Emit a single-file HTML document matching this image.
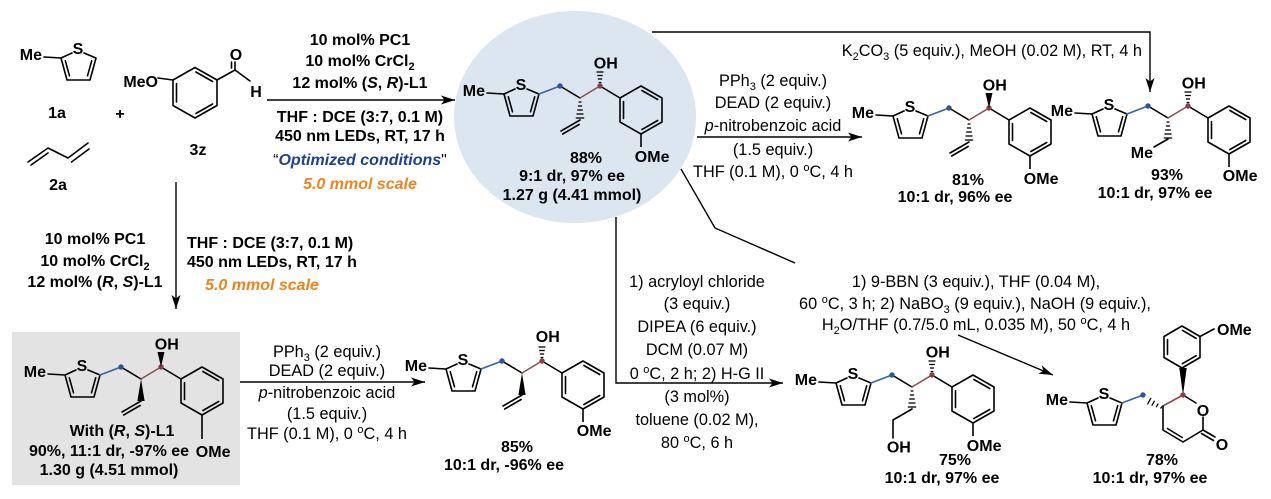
<!DOCTYPE html>
<html><head><meta charset="utf-8">
<style>
html,body{margin:0;padding:0;background:#fff;}
svg{display:block;}
text{font-family:"Liberation Sans",Arial,sans-serif;fill:#000;}
.b{font-weight:bold;font-size:16px;}
.r{font-size:16.3px;}
</style></head><body>
<svg width="1271" height="499" viewBox="0 0 1271 499" xmlns="http://www.w3.org/2000/svg">
<defs>
<marker id="ah" markerUnits="userSpaceOnUse" markerWidth="16" markerHeight="10" refX="14" refY="5" orient="auto"><path d="M0,0.5 L14,5 L0,9.5 L3.5,5 Z" fill="#000"/></marker>
<g id="thio" stroke="#000" stroke-width="1.6" fill="none" stroke-linecap="round" stroke-linejoin="round">
 <line x1="-93" y1="-5" x2="-76" y2="-4"/>
 <polyline points="-65,-9 -76,-4 -70,18 -47,18 -41,-4 -53,-9"/>
 <line x1="-71.7" y1="-1.2" x2="-67.5" y2="13.8"/>
 <line x1="-45.3" y1="-1.2" x2="-49.5" y2="13.8"/>
</g>
<g id="core">
 <use href="#thio"/>
 <g stroke-width="1.6" stroke-linecap="round" fill="none">
  <line x1="-41" y1="-4" x2="-20" y2="-12" stroke="#3565a5"/>
  <line x1="-20" y1="-12" x2="0" y2="0" stroke="#000"/>
  <line x1="0" y1="0" x2="20" y2="-12" stroke="#8c5050"/>
  <line x1="20" y1="-12" x2="40" y2="0" stroke="#000"/>
  <polygon points="40,0 61,-12 82,0 82,24 61,36 40,24" stroke="#000" stroke-linejoin="round"/>
  <line x1="61.9" y1="-7.5" x2="77.7" y2="1.5" stroke="#000"/>
  <line x1="43.5" y1="3.5" x2="43.5" y2="20.5" stroke="#000"/>
  <line x1="61.9" y1="31.5" x2="77.7" y2="22.5" stroke="#000"/>
 </g>
 <circle cx="-20" cy="-12" r="2.7" fill="#2a5699"/>
 <circle cx="20" cy="-12" r="2.7" fill="#8e3e48"/>
</g>
<g id="hd" stroke="#000" stroke-width="1.3">
 <line x1="-1.4" y1="4" x2="1.4" y2="4"/>
 <line x1="-2.1" y1="8" x2="2.1" y2="8"/>
 <line x1="-2.8" y1="12" x2="2.8" y2="12"/>
 <line x1="-3.5" y1="16" x2="3.5" y2="16"/>
 <line x1="-4.2" y1="20" x2="4.2" y2="20"/>
</g>
<polygon id="bd" points="0,0 -3.6,22 3.6,22" fill="#000"/>
<g id="hu" stroke="#000" stroke-width="1.3">
 <line x1="18.6" y1="-15.5" x2="21.4" y2="-15.5"/>
 <line x1="17.9" y1="-19" x2="22.1" y2="-19"/>
 <line x1="17.2" y1="-22.5" x2="22.8" y2="-22.5"/>
 <line x1="16.5" y1="-26" x2="23.5" y2="-26"/>
</g>
<polygon id="bu" points="20,-12 16.5,-27 23.5,-27" fill="#000"/>
<g id="vin" stroke="#000" stroke-width="1.6" stroke-linecap="round">
 <line x1="0" y1="22" x2="-19" y2="33"/>
 <line x1="-0.9" y1="26.5" x2="-17.3" y2="36"/>
</g>
</defs>

<rect width="1271" height="499" fill="#fff"/>
<ellipse cx="575" cy="117" rx="121" ry="106" fill="#dce6f1"/>
<rect x="12" y="332" width="228" height="153" fill="#e3e3e3"/>

<!-- arrows -->
<g stroke="#000" stroke-width="1.4" fill="none">
 <line x1="267" y1="100" x2="455" y2="100" marker-end="url(#ah)"/>
 <line x1="176" y1="182" x2="176" y2="309" marker-end="url(#ah)"/>
 <line x1="697" y1="137" x2="862" y2="137" marker-end="url(#ah)"/>
 <polyline points="652,32 1150,32 1150,92" marker-end="url(#ah)"/>
 <line x1="240" y1="382" x2="425" y2="382" marker-end="url(#ah)"/>
 <polyline points="616,217 616,383 783,383" marker-end="url(#ah)"/>
 <polyline points="681,169 715,228 795,263"/>
 <line x1="958" y1="335" x2="1053" y2="375" marker-end="url(#ah)"/>
</g>

<!-- 1a -->
<use href="#thio" transform="translate(137,62)"/>
<text class="b" x="42" y="60" text-anchor="end">Me</text>
<text class="b" x="78" y="54" text-anchor="middle">S</text>
<text class="b" x="57" y="118" text-anchor="middle">1a</text>
<text class="b" x="120" y="119" text-anchor="middle">+</text>

<!-- 2a -->
<g stroke="#000" stroke-width="1.6" fill="none" stroke-linecap="round" stroke-linejoin="round">
 <polyline points="28,162 48,148 68,158 88,143"/>
 <line x1="31" y1="165" x2="48" y2="153"/>
 <line x1="71.5" y1="162" x2="89" y2="149"/>
</g>
<text class="b" x="58" y="190" text-anchor="middle">2a</text>

<!-- 3z -->
<g stroke="#000" stroke-width="1.6" fill="none" stroke-linecap="round" stroke-linejoin="round">
 <polygon points="195,67.5 217,80 217,105.5 195,118 173,105.5 173,80"/>
 <line x1="195.9" y1="72" x2="212.6" y2="81.5"/>
 <line x1="176.5" y1="83.5" x2="176.5" y2="102"/>
 <line x1="195.9" y1="113.5" x2="212.6" y2="104"/>
 <line x1="217" y1="80" x2="235" y2="70"/>
 <line x1="235" y1="70" x2="235" y2="62"/>
 <line x1="231.5" y1="68" x2="231.5" y2="62"/>
 <line x1="235" y1="70" x2="250" y2="81"/>
 <line x1="158" y1="78" x2="173" y2="80"/>
</g>
<text class="b" x="236" y="60" text-anchor="middle">O</text>
<text class="b" x="256" y="97" text-anchor="middle">H</text>
<text class="b" x="158" y="87" text-anchor="end">MeO</text>
<text class="b" x="198" y="155" text-anchor="middle">3z</text>

<!-- top conditions -->
<g class="b" text-anchor="middle">
 <text x="360" y="45">10 mol% PC1</text>
 <text x="360" y="66">10 mol% CrCl<tspan dy="4" font-size="11">2</tspan></text>
 <text x="360" y="88">12 mol% (<tspan font-style="italic">S</tspan>, <tspan font-style="italic">R</tspan>)-L1</text>
 <text x="360" y="122">THF : DCE (3:7, 0.1 M)</text>
 <text x="360" y="141">450 nm LEDs, RT, 17 h</text>
 <text x="360" y="165"><tspan font-weight="normal">“</tspan><tspan fill="#1f3f93" font-style="italic">Optimized conditions</tspan><tspan font-weight="normal">"</tspan></text>
 <text x="360" y="189" fill="#f0831e" style="fill:#f0831e" font-style="italic">5.0 mmol scale</text>
</g>

<!-- left conditions -->
<g class="b">
 <text x="95" y="244" text-anchor="middle">10 mol% PC1</text>
 <text x="95" y="266" text-anchor="middle">10 mol% CrCl<tspan dy="4" font-size="11">2</tspan></text>
 <text x="95" y="287" text-anchor="middle">12 mol% (<tspan font-style="italic">R</tspan>, <tspan font-style="italic">S</tspan>)-L1</text>
 <text x="187" y="248">THF : DCE (3:7, 0.1 M)</text>
 <text x="187" y="267">450 nm LEDs, RT, 17 h</text>
 <text x="262" y="290" text-anchor="middle" style="fill:#f0831e" font-style="italic">5.0 mmol scale</text>
</g>

<!-- mid top conditions -->
<g class="r" text-anchor="middle">
 <text x="773" y="86">PPh<tspan dy="4" font-size="11">3</tspan><tspan dy="-4"> (2 equiv.)</tspan></text>
 <text x="773" y="108">DEAD (2 equiv.)</text>
 <text x="773" y="131"><tspan font-style="italic">p</tspan>-nitrobenzoic acid</text>
 <text x="773" y="155">(1.5 equiv.)</text>
 <text x="773" y="177">THF (0.1 M), 0 <tspan dy="-6" font-size="11">o</tspan><tspan dy="6">C, 4 h</tspan></text>
</g>
<text class="r" x="1142" y="56" text-anchor="end">K<tspan dy="4" font-size="11">2</tspan><tspan dy="-4">CO</tspan><tspan dy="4" font-size="11">3</tspan><tspan dy="-4"> (5 equiv.), MeOH (0.02 M), RT, 4 h</tspan></text>

<!-- lower-left conditions -->
<g class="r" text-anchor="middle">
 <text x="327" y="357">PPh<tspan dy="4" font-size="11">3</tspan><tspan dy="-4"> (2 equiv.)</tspan></text>
 <text x="327" y="376">DEAD (2 equiv.)</text>
 <text x="327" y="398"><tspan font-style="italic">p</tspan>-nitrobenzoic acid</text>
 <text x="327" y="419">(1.5 equiv.)</text>
 <text x="327" y="439">THF (0.1 M), 0 <tspan dy="-6" font-size="11">o</tspan><tspan dy="6">C, 4 h</tspan></text>
</g>

<!-- acryloyl conditions -->
<g class="r" text-anchor="middle">
 <text x="697" y="287">1) acryloyl chloride</text>
 <text x="697" y="309">(3 equiv.)</text>
 <text x="697" y="332">DIPEA (6 equiv.)</text>
 <text x="697" y="355">DCM (0.07 M)</text>
 <text x="697" y="379">0 <tspan dy="-6" font-size="11">o</tspan><tspan dy="6">C, 2 h; 2) H-G II</tspan></text>
 <text x="697" y="402">(3 mol%)</text>
 <text x="697" y="425">toluene (0.02 M),</text>
 <text x="697" y="448">80 <tspan dy="-6" font-size="11">o</tspan><tspan dy="6">C, 6 h</tspan></text>
</g>

<!-- 9-BBN conditions -->
<g class="r" text-anchor="middle">
 <text x="976" y="287">1) 9-BBN (3 equiv.), THF (0.04 M),</text>
 <text x="975" y="309">60 <tspan dy="-6" font-size="11">o</tspan><tspan dy="6">C, 3 h; 2) NaBO</tspan><tspan dy="4" font-size="11">3</tspan><tspan dy="-4"> (9 equiv.), NaOH (9 equiv.),</tspan></text>
 <text x="976" y="330">H<tspan dy="4" font-size="11">2</tspan><tspan dy="-4">O/THF (0.7/5.0 mL, 0.035 M), 50 </tspan><tspan dy="-6" font-size="11">o</tspan><tspan dy="6">C, 4 h</tspan></text>
</g>

<!-- A: circle product -->
<g transform="translate(580,98)">
 <use href="#core"/>
 <use href="#hu"/>
 <use href="#hd"/>
 <use href="#vin"/>
 <line x1="61" y1="36" x2="61" y2="49" stroke="#000" stroke-width="1.6"/>
 <g class="b">
  <text x="-95" y="-2" text-anchor="end">Me</text>
  <text x="-59" y="-8" text-anchor="middle">S</text>
  <text x="13.8" y="-29.5">OH</text>
  <text x="54.8" y="64">OMe</text>
 </g>
</g>
<g class="b" text-anchor="middle">
 <text x="586" y="163">88%</text>
 <text x="572" y="181">9:1 dr, 97% ee</text>
 <text x="572" y="200">1.27 g (4.41 mmol)</text>
</g>

<!-- B: 81% -->
<g transform="translate(969,120)">
 <use href="#core"/>
 <use href="#bu"/>
 <use href="#hd"/>
 <use href="#vin"/>
 <line x1="61" y1="36" x2="61" y2="49" stroke="#000" stroke-width="1.6"/>
 <g class="b">
  <text x="-95" y="-2" text-anchor="end">Me</text>
  <text x="-59" y="-8" text-anchor="middle">S</text>
  <text x="13.8" y="-29.5">OH</text>
  <text x="54.8" y="64">OMe</text>
 </g>
</g>
<g class="b" text-anchor="middle">
 <text x="968" y="185">81%</text>
 <text x="955" y="202">10:1 dr, 96% ee</text>
</g>

<!-- C: 93% -->
<g transform="translate(1168,118)">
 <use href="#core"/>
 <use href="#hu"/>
 <use href="#hd"/>
 <line x1="0" y1="21" x2="-14" y2="29" stroke="#000" stroke-width="1.6" stroke-linecap="round"/>
 <line x1="61" y1="36" x2="61" y2="49" stroke="#000" stroke-width="1.6"/>
 <g class="b">
  <text x="-95" y="-2" text-anchor="end">Me</text>
  <text x="-59" y="-8" text-anchor="middle">S</text>
  <text x="13.8" y="-29.5">OH</text>
  <text x="54.8" y="63">OMe</text>
  <text x="-15" y="40" text-anchor="end">Me</text>
 </g>
</g>
<g class="b" text-anchor="middle">
 <text x="1167" y="180">93%</text>
 <text x="1155" y="198">10:1 dr, 97% ee</text>
</g>

<!-- D: grey box product -->
<g transform="translate(141,379)">
 <use href="#core"/>
 <use href="#bu"/>
 <use href="#bd"/>
 <use href="#vin"/>
 <line x1="61" y1="36" x2="61" y2="60" stroke="#000" stroke-width="1.6"/>
 <g class="b">
  <text x="-95" y="-2" text-anchor="end">Me</text>
  <text x="-59" y="-8" text-anchor="middle">S</text>
  <text x="13.8" y="-29.5">OH</text>
  <text x="54.8" y="78">OMe</text>
 </g>
</g>
<g class="b" text-anchor="middle">
 <text x="122" y="436">With (<tspan font-style="italic">R</tspan>, <tspan font-style="italic">S</tspan>)-L1</text>
 <text x="109" y="456">90%, 11:1 dr, -97% ee</text>
 <text x="109" y="475">1.30 g (4.51 mmol)</text>
</g>

<!-- E: 85% -->
<g transform="translate(522,373)">
 <use href="#core"/>
 <use href="#hu"/>
 <use href="#bd"/>
 <use href="#vin"/>
 <line x1="61" y1="36" x2="61" y2="49" stroke="#000" stroke-width="1.6"/>
 <g class="b">
  <text x="-95" y="-2" text-anchor="end">Me</text>
  <text x="-59" y="-8" text-anchor="middle">S</text>
  <text x="13.8" y="-31">OH</text>
  <text x="54.8" y="63">OMe</text>
 </g>
</g>
<g class="b" text-anchor="middle">
 <text x="517" y="452">85%</text>
 <text x="504" y="470">10:1 dr, -96% ee</text>
</g>

<!-- F: 75% -->
<g transform="translate(912,387)">
 <use href="#core"/>
 <use href="#hu"/>
 <use href="#hd"/>
 <polyline points="0,22 -19,33 -19,51" stroke="#000" stroke-width="1.6" fill="none" stroke-linecap="round" stroke-linejoin="round"/>
 <line x1="61" y1="36" x2="61" y2="49" stroke="#000" stroke-width="1.6"/>
 <g class="b">
  <text x="-95" y="-2" text-anchor="end">Me</text>
  <text x="-59" y="-8" text-anchor="middle">S</text>
  <text x="13.8" y="-29.5">OH</text>
  <text x="54.8" y="64">OMe</text>
  <text x="-25.2" y="65.5">OH</text>
 </g>
</g>
<g class="b" text-anchor="middle">
 <text x="955" y="465">75%</text>
 <text x="942" y="483">10:1 dr, 97% ee</text>
</g>

<!-- G: lactone 78% -->
<use href="#thio" transform="translate(1163,407)"/>
<g stroke-width="1.6" fill="none" stroke-linecap="round" stroke-linejoin="round">
 <line x1="1122" y1="403" x2="1143" y2="395" stroke="#3565a5"/>
 <line x1="1163" y1="406" x2="1183" y2="395" stroke="#8c5050"/>
 <g stroke="#000">
  <polyline points="1163,406 1163,430 1183,442 1203,430 1203,417"/>
  <line x1="1183" y1="395" x2="1196" y2="403"/>
  <line x1="1167.4" y1="428.5" x2="1182.2" y2="437.5"/>
  <line x1="1203" y1="430" x2="1215" y2="437"/>
  <line x1="1201.5" y1="433.5" x2="1213.5" y2="440.5"/>
  <polygon points="1182,368 1200,357.5 1200,336.5 1182,326 1164,336.5 1164,357.5"/>
  <line x1="1167.5" y1="339.5" x2="1167.5" y2="354.5"/>
  <line x1="1182.4" y1="330.3" x2="1196.1" y2="338.3"/>
  <line x1="1196.1" y1="355.7" x2="1182.4" y2="363.7"/>
  <line x1="1200" y1="336.5" x2="1214" y2="329"/>
 </g>
</g>
<g stroke="#000" stroke-width="1.3">
 <line x1="1160.6" y1="408.6" x2="1161.8" y2="406.4"/>
 <line x1="1156.2" y1="407.2" x2="1158.2" y2="403.6"/>
 <line x1="1151.8" y1="405.7" x2="1154.6" y2="400.7"/>
 <line x1="1147.5" y1="404.3" x2="1151" y2="397.9"/>
</g>
<polygon points="1183,395 1179.3,368 1186.7,368" fill="#000"/>
<circle cx="1143" cy="395" r="2.7" fill="#2a5699"/>
<circle cx="1183" cy="395" r="2.7" fill="#8e3e48"/>
<g class="b">
 <text x="1068" y="405" text-anchor="end">Me</text>
 <text x="1104" y="399" text-anchor="middle">S</text>
 <text x="1203" y="416" text-anchor="middle">O</text>
 <text x="1222" y="450" text-anchor="middle">O</text>
 <text x="1217" y="335">OMe</text>
</g>
<g class="b" text-anchor="middle">
 <text x="1162" y="465">78%</text>
 <text x="1150" y="483">10:1 dr, 97% ee</text>
</g>
</svg>
</body></html>
